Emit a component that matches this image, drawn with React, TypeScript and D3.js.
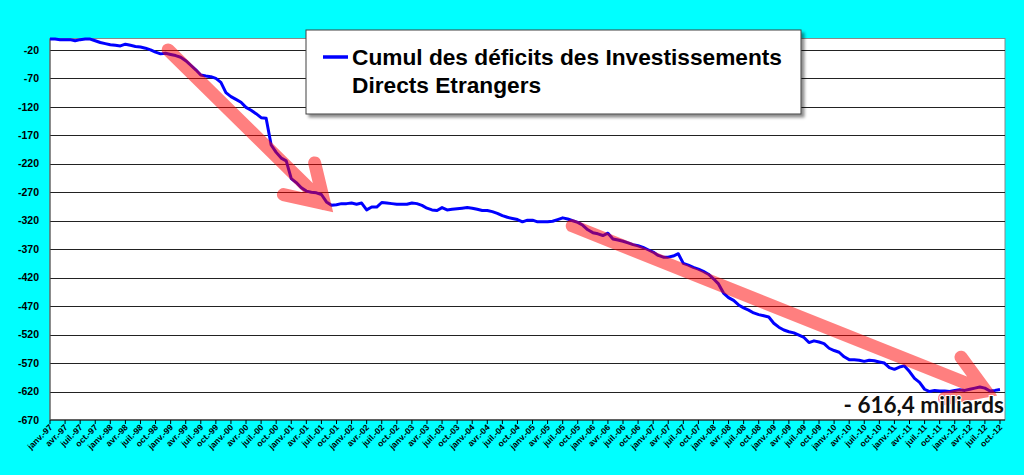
import React from "react";
import * as d3 from "d3";

// ---- data ----
const monthNames = ["janv.", "févr.", "mars", "avr.", "mai", "juin", "juil.", "août", "sept.", "oct.", "nov.", "déc."];
const startYear = 1997;
const categoryCount = 191; // janv.-97 .. nov.-12
const categories: string[] = Array.from({ length: categoryCount }, (_, i) => {
  const y = startYear + Math.floor(i / 12);
  return `${monthNames[i % 12]}-${String(y % 100).padStart(2, "0")}`;
});

const cumulIDE: number[] = [
  -1, -1, -2, -2, -2, -4, -2, -1, -1, -4, -7, -9,
  -11, -12, -13, -10, -12, -14, -15, -17, -20, -24, -27, -26,
  -28, -30, -33, -39, -47, -55, -64, -66, -67, -70, -77, -95,
  -102, -107, -112, -121, -126, -132, -139, -140, -187, -200, -210, -215,
  -246, -253, -262, -268, -270, -271, -274, -287, -293, -292, -290, -290,
  -289, -291, -289, -301, -296, -296, -288, -289, -290, -291, -291, -291,
  -289, -290, -293, -298, -301, -302, -297, -301, -300, -299, -298, -297,
  -298, -300, -302, -302, -304, -307, -311, -314, -316, -318, -322, -319,
  -319, -322, -322, -322, -321, -318, -315, -317, -320, -323, -328, -336,
  -341, -343, -346, -342, -352, -354, -356, -359, -362, -364, -367, -371,
  -375, -381, -384, -384, -382, -378, -395, -398, -402, -405, -409, -414,
  -422, -431, -447, -455, -460, -468, -473, -477, -482, -485, -487, -489,
  -500, -507, -512, -515, -517, -521, -525, -534, -531, -533, -536, -544,
  -548, -551, -559, -564, -564, -565, -567, -565, -566, -568, -570, -578,
  -581, -577, -575, -585, -597, -604, -616, -620, -618, -619, -619, -620,
  -618, -617, -618, -616, -614, -612, -614, -619, -618, -616.4,
];

const yTicks: number[] = [-670, -620, -570, -520, -470, -420, -370, -320, -270, -220, -170, -120, -70, -20];
const yDomain: [number, number] = [-670, 0];

const legendLines = ["Cumul des déficits des Investissements", "Directs Etrangers"];
const finalLabel = "- 616,4 milliards";

// trend arrows in data coordinates (category index, value): start and visual tip
const arrows = [
  { from: [23.5, -20], to: [56.3, -305] },
  { from: [103.9, -329], to: [188.4, -627] },
];

// ---- layout ----
const W = 1024;
const H = 475;
const plot = { left: 50, right: 1005, top: 38.5, bottom: 420 };
const font = "'Liberation Sans', Arial, sans-serif";

export default function App() {
  const x = d3.scalePoint<string>().domain(categories).range([plot.left, plot.right]);
  const xi = (i: number) => plot.left + (i * (plot.right - plot.left)) / (categoryCount - 1);
  const y = d3.scaleLinear().domain(yDomain).range([plot.bottom, plot.top]);

  const line = d3
    .line<number>()
    .x((_, i) => x(categories[i]) as number)
    .y((d) => y(d));

  const tickIdx = categories.map((_, i) => i).filter((i) => i % 3 === 0);

  const arrowPath = (a: { from: number[]; to: number[] }) => {
    const x0 = xi(a.from[0]);
    const y0 = y(a.from[1]);
    const vx = xi(a.to[0]);
    const vy = y(a.to[1]);
    const ang = Math.atan2(y0 - vy, x0 - vx);
    // pull the path tip back so the mitred point lands on the visual tip
    const x1 = vx + 12 * Math.cos(ang);
    const y1 = vy + 12 * Math.sin(ang);
    const spread = (32 * Math.PI) / 180;
    const len = 42;
    const b1 = [x1 + len * Math.cos(ang + spread), y1 + len * Math.sin(ang + spread)];
    const b2 = [x1 + len * Math.cos(ang - spread), y1 + len * Math.sin(ang - spread)];
    return `M${x0},${y0}L${x1},${y1}M${b1[0]},${b1[1]}L${x1},${y1}L${b2[0]},${b2[1]}`;
  };

  return (
    <svg
      width={W}
      height={H}
      style={{ position: "absolute", left: 0, top: 0, display: "block" }}
      fontFamily={font}
    >
      <defs>
        <filter id="shadow" x="-5%" y="-5%" width="115%" height="130%">
          <feDropShadow dx="3" dy="3" stdDeviation="1.5" floodColor="#000" floodOpacity="0.45" />
        </filter>
      </defs>
      <rect x={0} y={0} width={W} height={H} fill="#00FFFF" />
      <rect
        x={plot.left}
        y={plot.top}
        width={plot.right - plot.left}
        height={plot.bottom - plot.top}
        fill="#fff"
        stroke="#8a8a8a"
        strokeWidth={1}
      />
      {/* gridlines */}
      {yTicks
        .filter((t) => t !== yDomain[0])
        .map((t) => (
          <line
            key={t}
            x1={plot.left}
            x2={plot.right}
            y1={Math.round(y(t)) + 0.5}
            y2={Math.round(y(t)) + 0.5}
            stroke="#222"
            strokeWidth={1}
          />
        ))}
      {/* axes */}
      <line x1={plot.left} x2={plot.right} y1={plot.bottom} y2={plot.bottom} stroke="#000" strokeWidth={1.2} />
      <line x1={plot.left} x2={plot.left} y1={plot.top} y2={plot.bottom} stroke="#555" strokeWidth={1} />
      {/* y labels */}
      {yTicks.map((t) => (
        <text
          key={t}
          x={39}
          y={y(t)}
          dy="0.35em"
          textAnchor="end"
          fontSize={10.5}
          fontWeight="bold"
          fill="#000"
        >
          {t}
        </text>
      ))}
      {/* x ticks & labels */}
      {tickIdx.map((i) => {
        const px = x(categories[i]) as number;
        return (
          <g key={i}>
            <line x1={px} x2={px} y1={plot.bottom} y2={plot.bottom + 4} stroke="#000" strokeWidth={1} />
            <text
              transform={`translate(${px + 3},${plot.bottom + 8}) rotate(-45)`}
              textAnchor="end"
              fontSize={8.5}
              fontWeight="bold"
              fill="#000"
            >
              {categories[i]}
            </text>
          </g>
        );
      })}
      {/* series */}
      <path d={line(cumulIDE) ?? ""} fill="none" stroke="#0000FF" strokeWidth={3} strokeLinejoin="round" />
      {/* arrows */}
      <g opacity={0.5}>
        {arrows.map((a, k) => (
          <path
            key={k}
            d={arrowPath(a)}
            fill="none"
            stroke="#FF0000"
            strokeWidth={13}
            strokeLinecap="round"
            strokeLinejoin="miter"
            strokeMiterlimit={10}
          />
        ))}
      </g>
      {/* legend */}
      <rect x={306} y={30} width={495} height={84} fill="#fff" stroke="#404040" strokeWidth={1} filter="url(#shadow)" />
      <line x1={323} x2={348} y1={57} y2={57} stroke="#0000FF" strokeWidth={3.5} />
      {legendLines.map((t, k) => (
        <text key={k} x={352} y={65 + k * 28} fontSize={22.7} fontWeight="bold" fill="#000">
          {t}
        </text>
      ))}
      {/* final value label */}
      <text
        x={1004}
        y={413}
        textAnchor="end"
        fontSize={22.5}
        fontWeight="bold"
        fill="#111"
        fontFamily="Lato, 'Open Sans', sans-serif"
        style={{ paintOrder: "stroke" }}
        stroke="#fff"
        strokeWidth={2}
      >
        {finalLabel}
      </text>
    </svg>
  );
}
